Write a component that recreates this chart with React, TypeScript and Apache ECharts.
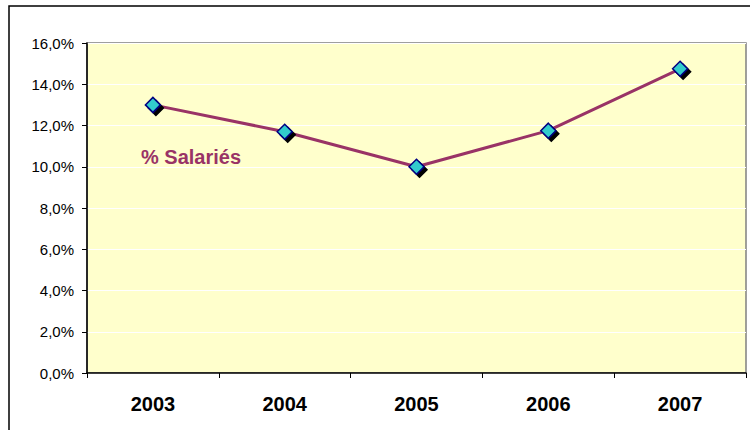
import React, { useEffect, useRef } from "react";
import * as echarts from "echarts";

const years = ["2003", "2004", "2005", "2006", "2007"];
const salaries = [13.0, 11.7, 10.0, 11.75, 14.75];
const seriesName = "% Salariés";

export default function App() {
  const ref = useRef<HTMLDivElement>(null);
  useEffect(() => {
    document.body.style.margin = "0";
    const chart = echarts.init(ref.current!, undefined, { renderer: "svg" });
    chart.setOption({
      animation: false,
      backgroundColor: "#ffffff",
      grid: {
        left: 87,
        top: 43,
        right: 4,
        bottom: 57,
        show: true,
        backgroundColor: "#FFFFCC",
        borderColor: "#808080",
        borderWidth: 1.5,
      },
      graphic: [
        {
          type: "rect",
          shape: { x: 9, y: 6, width: 800, height: 500 },
          style: { fill: "none", stroke: "#000000", lineWidth: 1.5 },
          z: 100,
        },
        {
          type: "text",
          x: 141,
          y: 157,
          style: {
            text: seriesName,
            fill: "#993366",
            font: "bold 20px 'Liberation Sans', Arial, sans-serif",
            verticalAlign: "middle",
          },
          z: 100,
        },
      ],
      xAxis: {
        type: "category",
        data: years,
        boundaryGap: true,
        axisLine: { lineStyle: { color: "#000000", width: 1.5 } },
        axisTick: { show: true, length: 5, lineStyle: { color: "#000000" } },
        axisLabel: {
          color: "#000000",
          fontFamily: "'Liberation Sans', Arial, sans-serif",
          fontWeight: "bold",
          fontSize: 20,
          margin: 21,
        },
        splitLine: { show: false },
      },
      yAxis: {
        type: "value",
        min: 0,
        max: 16,
        interval: 2,
        axisLine: { show: true, lineStyle: { color: "#000000", width: 1.5 } },
        axisTick: { show: true, length: 5, lineStyle: { color: "#000000" } },
        axisLabel: {
          color: "#000000",
          fontFamily: "'Liberation Sans', Arial, sans-serif",
          fontSize: 15,
          margin: 13,
          formatter: (v: number) => v.toFixed(1).replace(".", ",") + "%",
        },
        splitLine: { show: true, lineStyle: { color: "#FFFFFF", width: 1 } },
      },
      series: [
        {
          name: seriesName,
          type: "line",
          data: salaries,
          symbol: "diamond",
          symbolSize: 15,
          lineStyle: { color: "#993366", width: 3 },
          itemStyle: {
            color: "#33CCCC",
            borderColor: "#000080",
            borderWidth: 1.5,
            shadowColor: "#000000",
            shadowBlur: 0,
            shadowOffsetX: 3,
            shadowOffsetY: 3,
          },
          z: 5,
        },
      ],
    });
    return () => chart.dispose();
  }, []);
  return <div ref={ref} style={{ width: 750, height: 430 }} />;
}
